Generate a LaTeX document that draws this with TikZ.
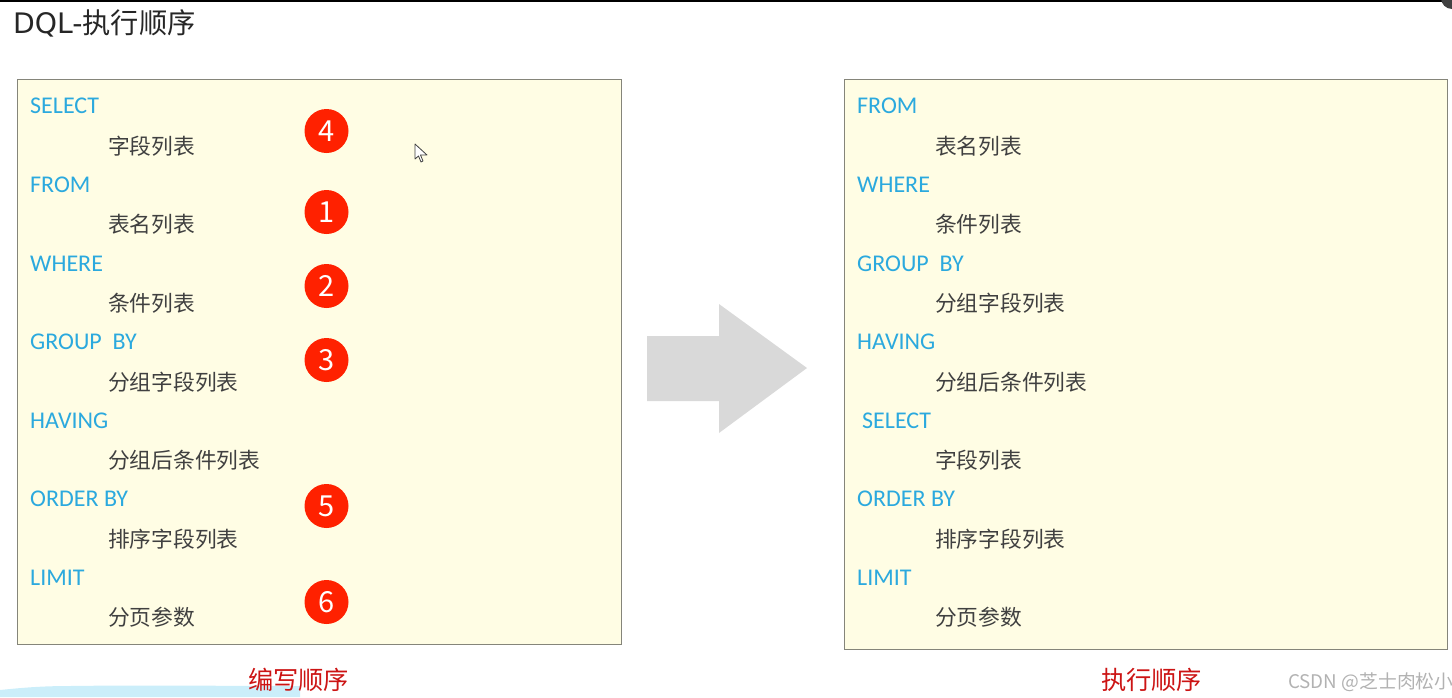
\documentclass[tikz,border=0pt]{standalone}
\usepackage{fontspec}
\setmainfont{Noto Sans CJK SC}
\newfontfamily\kwdfont{Carlito}
\newfontfamily\titlefont{DejaVu Sans}
\usepackage{xcolor}
\definecolor{kwdblue}{HTML}{2BA9DE}
\definecolor{fldgray}{HTML}{404040}
\definecolor{panelfill}{HTML}{FFFDE4}
\definecolor{panelline}{HTML}{85857A}
\definecolor{badgered}{HTML}{FF2100}
\definecolor{capred}{HTML}{CC1414}
\definecolor{brushblue}{HTML}{CBEEFA}
\definecolor{arrowgray}{HTML}{D9D9D9}
\tikzset{
  kwd/.style={anchor=base west,inner sep=0pt,text=kwdblue,font=\kwdfont\fontsize{24}{26}\selectfont},
  fld/.style={anchor=base west,inner sep=0pt,text=fldgray,font=\fontsize{21.75}{26}\selectfont},
  badge/.style={circle,fill=badgered,minimum size=44pt,inner sep=0pt,text=white,font=\fontsize{29}{32}\selectfont},
  panel/.style={draw=panelline,fill=panelfill,line width=1pt},
  caption/.style={anchor=base,inner sep=0pt,text=capred,font=\fontsize{25.25}{30}\selectfont}
}
\begin{document}
\begin{tikzpicture}[x=1pt,y=-1pt]
            \useasboundingbox (0,0) rectangle (1452,697);
            \clip (0,0) rectangle (1452,697);
            % window edges
            \fill[black] (0,0) rectangle (1452,2);
            \fill[fldgray] (1452,9) arc[start angle=90,end angle=270,radius=11] -- cycle;
            \node[anchor=base west,inner sep=0pt,text=black!85,font=\fontsize{28.25}{32}\selectfont] (title) at (13,33) {{\titlefont DQL-}执行顺序};
            % brush stroke under the left panel
            \fill[brushblue] (0,690) .. controls (20,688) and (40,686) .. (70,686) .. controls (140,685) and (230,686) .. (300,686) -- (300,697) -- (0,697) -- cycle;
            % left panel
            \draw[panel] (17.5,79) rectangle (621,644);
            \node[kwd] (lselect) at (30,113) {SELECT};
            \node[fld] (lselectcol) at (108,154) {字段列表};
            \node[kwd] (lfrom) at (30,192) {FROM};
            \node[fld] (lfromcol) at (108,232) {表名列表};
            \node[kwd] (lwhere) at (30,271) {WHERE};
            \node[fld] (lwherecol) at (108,311) {条件列表};
            \node[kwd] (lgroup) at (30,349) {GROUP\ \ BY};
            \node[fld] (lgroupcol) at (108,390) {分组字段列表};
            \node[kwd] (lhaving) at (30,428) {HAVING};
            \node[fld] (lhavingcol) at (108,468) {分组后条件列表};
            \node[kwd] (lorder) at (30,506) {ORDER BY};
            \node[fld] (lordercol) at (108,547) {排序字段列表};
            \node[kwd] (llimit) at (30,585) {LIMIT};
            \node[fld] (llimitcol) at (108,625) {分页参数};
            \node[badge] (nfour) at (326.5,131) {4};
            \node[badge] (none) at (326.5,212) {1};
            \node[badge] (ntwo) at (326.5,286) {2};
            \node[badge] (nthree) at (326.5,360) {3};
            \node[badge] (nfive) at (326.5,506) {5};
            \node[badge] (nsix) at (326.5,602) {6};
            % mouse pointer
            \draw[fldgray,fill=white,line width=0.8pt,line join=round] (415,144) -- (415,159) -- (418.5,156) -- (421,162) -- (423,161) -- (420.5,155) -- (427,155) -- cycle;
            % block arrow
            \fill[arrowgray] (647,336) -- (719,336) -- (719,304) -- (807,368) -- (719,433) -- (719,401) -- (647,401) -- cycle;
            % right panel
            \draw[panel] (844,79) rectangle (1447,649);
            \node[kwd] (rfrom) at (857,113) {FROM};
            \node[fld] (rfromcol) at (935,154) {表名列表};
            \node[kwd] (rwhere) at (857,192) {WHERE};
            \node[fld] (rwherecol) at (935,232) {条件列表};
            \node[kwd] (rgroup) at (857,271) {GROUP\ \ BY};
            \node[fld] (rgroupcol) at (935,311) {分组字段列表};
            \node[kwd] (rhaving) at (857,349) {HAVING};
            \node[fld] (rhavingcol) at (935,390) {分组后条件列表};
            \node[kwd] (rselect) at (862,428) {SELECT};
            \node[fld] (rselectcol) at (935,468) {字段列表};
            \node[kwd] (rorder) at (857,506) {ORDER BY};
            \node[fld] (rordercol) at (935,547) {排序字段列表};
            \node[kwd] (rlimit) at (857,585) {LIMIT};
            \node[fld] (rlimitcol) at (935,625) {分页参数};
            % captions
            \node[caption] (lcap) at (298.5,689) {编写顺序};
            \node[caption] (rcap) at (1151.5,689) {执行顺序};
            \node[anchor=base west,inner sep=0pt,text=black!30,font=\fontsize{18.8}{24}\selectfont] (mark) at (1288,688) {CSDN @芝士肉松小};
        \end{tikzpicture}
\end{document}
